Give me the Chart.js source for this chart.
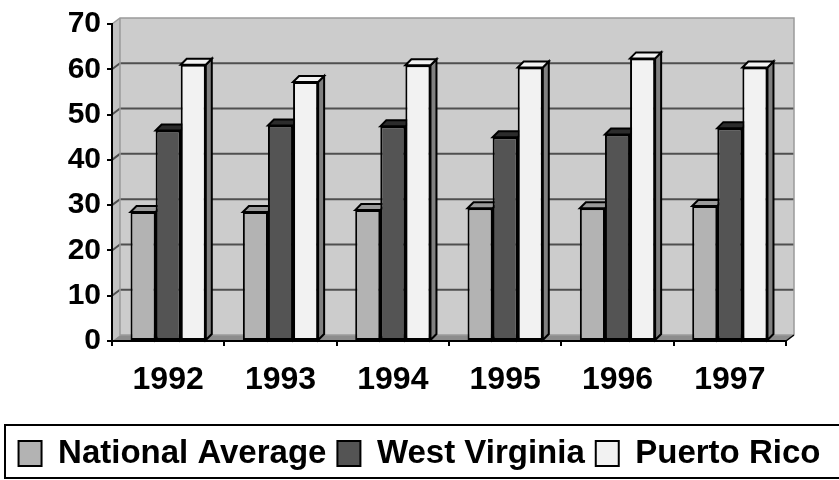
<!DOCTYPE html>
<html>
<head>
<meta charset="utf-8">
<script src="https://cdn.jsdelivr.net/npm/chart.js@4.4.1/dist/chart.umd.min.js"></script>
<style>
    html, body { margin: 0; padding: 0; background: #ffffff; }
    #wrap { width: 839px; height: 480px; }
</style>
</head>
<body>
<div id="wrap"><canvas id="chart" width="839" height="480"></canvas></div>
<script>
// Data
const years = ['1992', '1993', '1994', '1995', '1996', '1997'];
const nationalAverage = [28.5, 28.5, 28.9, 29.3, 29.3, 29.8];
const westVirginia = [46.5, 47.6, 47.4, 45.0, 45.6, 47.0];
const puertoRico = [61.0, 57.2, 60.9, 60.4, 62.4, 60.4];
const yTicks = [0, 10, 20, 30, 40, 50, 60, 70];

const FONT = '"Liberation Sans", Arial, Helvetica, sans-serif';

// 3D look: wall depth and bar depth offsets
const WALL_DX = 8, WALL_DY = -6;
const BAR_DX = 6, BAR_DY = -6;

// face colours per series: front, top, side
const faces = [
    { front: '#b3b3b3', top: '#9a9a9a', side: '#8a8a8a' },
    { front: '#545454', top: '#2c2c2c', side: '#333333' },
    { front: '#f2f2f2', top: '#f2f2f2', side: '#808080' }
];

function poly(ctx, pts, fill, stroke, lw) {
    ctx.beginPath();
    ctx.moveTo(pts[0][0], pts[0][1]);
    for (let i = 1; i < pts.length; i++) ctx.lineTo(pts[i][0], pts[i][1]);
    ctx.closePath();
    if (fill) { ctx.fillStyle = fill; ctx.fill(); }
    if (stroke) { ctx.strokeStyle = stroke; ctx.lineWidth = lw || 1; ctx.stroke(); }
}

// Draws back wall, side wall, floor and wall gridlines
const walls3d = {
    id: 'walls3d',
    beforeDraw(chart) {
        const { ctx, chartArea: a, scales } = chart;
        const y = scales.y;
        ctx.save();
        // back wall
        poly(ctx, [
            [a.left + WALL_DX, a.top + WALL_DY], [a.right + WALL_DX, a.top + WALL_DY],
            [a.right + WALL_DX, a.bottom + WALL_DY], [a.left + WALL_DX, a.bottom + WALL_DY]
        ], '#cccccc');
        // left wall
        poly(ctx, [
            [a.left, a.top], [a.left + WALL_DX, a.top + WALL_DY],
            [a.left + WALL_DX, a.bottom + WALL_DY], [a.left, a.bottom]
        ], '#c2c2c2');
        // floor
        poly(ctx, [
            [a.left, a.bottom], [a.right, a.bottom],
            [a.right + WALL_DX, a.bottom + WALL_DY], [a.left + WALL_DX, a.bottom + WALL_DY]
        ], '#8c8c8c');

        // gridlines on the walls
        ctx.lineWidth = 2;
        ctx.strokeStyle = '#4f4f4f';
        yTicks.forEach(v => {
            if (v === 0 || v === 70) return;
            const py = y.getPixelForValue(v);
            ctx.beginPath();
            ctx.moveTo(a.left, py);
            ctx.lineTo(a.left + WALL_DX, py + WALL_DY);
            ctx.lineTo(a.right + WALL_DX, py + WALL_DY);
            ctx.stroke();
        });

        // wall edges
        ctx.lineWidth = 1.5;
        ctx.strokeStyle = '#9a9a9a';
        ctx.beginPath();
        ctx.moveTo(a.left, a.top);
        ctx.lineTo(a.left + WALL_DX, a.top + WALL_DY);
        ctx.lineTo(a.right + WALL_DX, a.top + WALL_DY);
        ctx.lineTo(a.right + WALL_DX, a.bottom + WALL_DY);
        ctx.moveTo(a.left + WALL_DX, a.top + WALL_DY);
        ctx.lineTo(a.left + WALL_DX, a.bottom + WALL_DY);
        ctx.lineTo(a.right + WALL_DX, a.bottom + WALL_DY);
        ctx.stroke();

        // floor right edge
        ctx.strokeStyle = '#000000';
        ctx.lineWidth = 1.5;
        ctx.beginPath();
        ctx.moveTo(a.right, a.bottom);
        ctx.lineTo(a.right + WALL_DX, a.bottom + WALL_DY);
        ctx.stroke();
        ctx.restore();
    },

    // side and top faces of every bar, behind the front faces
    beforeDatasetsDraw(chart) {
        const ctx = chart.ctx;
        ctx.save();
        chart.data.datasets.forEach((ds, i) => {
            const meta = chart.getDatasetMeta(i);
            const f = faces[i];
            meta.data.forEach(bar => {
                const p = bar.getProps(['x', 'y', 'base', 'width'], true);
                const l = p.x - p.width / 2, r = p.x + p.width / 2;
                poly(ctx, [
                    [r, p.y], [r + BAR_DX, p.y + BAR_DY],
                    [r + BAR_DX, p.base + BAR_DY], [r, p.base]
                ], f.side, '#000000', 2);
                poly(ctx, [
                    [l, p.y], [l + BAR_DX, p.y + BAR_DY],
                    [r + BAR_DX, p.y + BAR_DY], [r, p.y]
                ], f.top, '#000000', 2);
            });
        });
        ctx.restore();
    },

    // frame round the legend
    afterDraw(chart) {
        const ctx = chart.ctx;
        ctx.save();
        ctx.strokeStyle = '#000000';
        ctx.lineWidth = 2;
        ctx.strokeRect(5, 425, 840, 53);
        ctx.restore();
    }
};

const seriesNames = ['National Average', 'West Virginia', 'Puerto Rico'];
const seriesValues = [nationalAverage, westVirginia, puertoRico];

new Chart(document.getElementById('chart'), {
    type: 'bar',
    data: {
        labels: years,
        datasets: seriesValues.map((vals, i) => ({
            label: seriesNames[i],
            data: vals,
            backgroundColor: faces[i].front,
            borderColor: '#000000',
            borderWidth: 2,
            borderSkipped: false,
            categoryPercentage: 0.67,
            barPercentage: 1.0
        }))
    },
    options: {
        responsive: false,
        animation: false,
        devicePixelRatio: 1,
        layout: { padding: { top: 19, right: 0, left: 0, bottom: 0 } },
        scales: {
            x: {
                grid: {
                    display: true,
                    drawOnChartArea: false,
                    offset: true,
                    tickLength: 5,
                    color: '#000000',
                    lineWidth: 2
                },
                border: { display: true, color: '#000000', width: 2 },
                ticks: {
                    color: '#000000',
                    padding: 15,
                    maxRotation: 0,
                    font: { family: FONT, size: 32, weight: 'bold' }
                },
                afterFit(s) { s.height = 85; }
            },
            y: {
                min: 0,
                max: 70,
                grid: {
                    display: true,
                    drawOnChartArea: false,
                    tickLength: 5,
                    color: '#000000',
                    lineWidth: 2
                },
                border: { display: true, color: '#000000', width: 2 },
                ticks: {
                    stepSize: 10,
                    color: '#000000',
                    padding: 6,
                    font: { family: FONT, size: 30, weight: 'bold' }
                },
                afterFit(s) { s.width = 112; }
            },
            // empty spacer on the right so the legend keeps the full width
            spacer: {
                type: 'linear',
                position: 'right',
                display: true,
                grid: { display: false },
                border: { display: false },
                ticks: { display: false },
                afterFit(s) { s.width = 53; }
            }
        },
        plugins: {
            legend: {
                position: 'bottom',
                labels: {
                    boxWidth: 23,
                    boxHeight: 25,
                    padding: 11,
                    color: '#000000',
                    font: { family: FONT, size: 33, weight: 'bold' }
                }
            },
            tooltip: { enabled: false }
        }
    },
    plugins: [walls3d]
});
</script>
</body>
</html>
